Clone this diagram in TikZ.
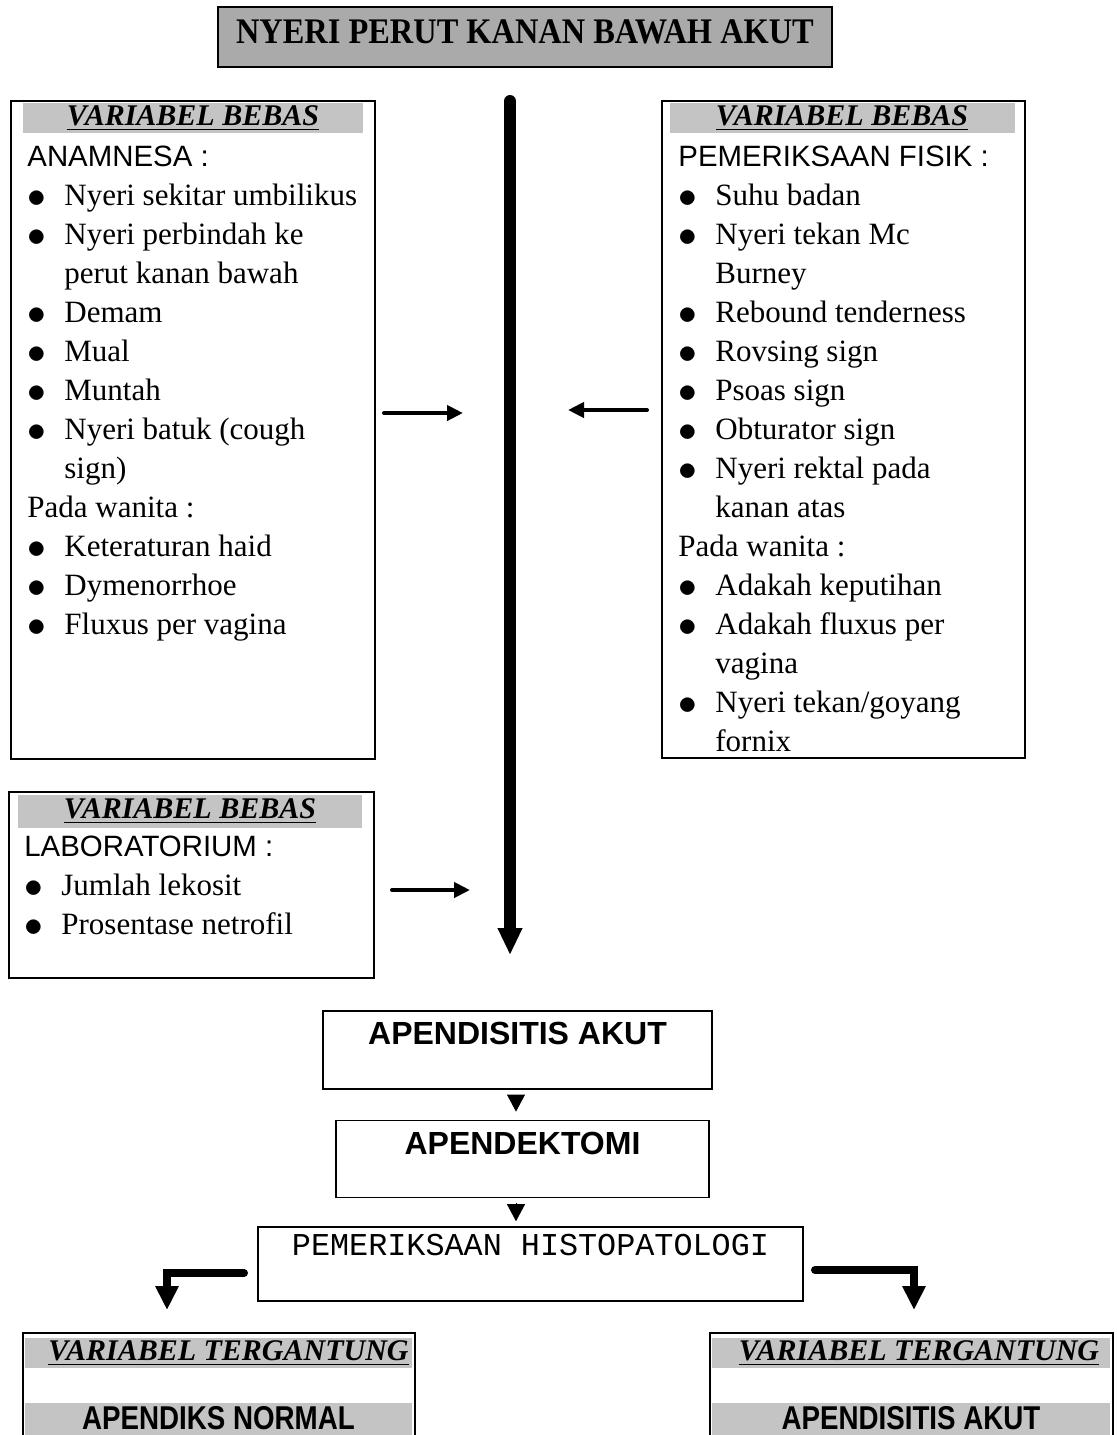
\documentclass[tikz,border=0pt]{standalone}
\usepackage{fontspec}
\setmainfont{Liberation Serif}
\setsansfont{Liberation Sans}
\setmonofont{Liberation Mono}
\newfontfamily\narrowsans[FakeStretch=0.84]{Liberation Sans}
\newfontfamily\titleserif[FakeStretch=0.9]{Liberation Serif}
\usepackage{tikz}
\usetikzlibrary{arrows.meta, positioning}
\definecolor{dotgray}{RGB}{196,196,196}
\definecolor{dotdark}{RGB}{170,170,170}
\newcommand{\bul}{\makebox[18.5pt][l]{\raisebox{-0.9pt}{\scalebox{1.3}{$\bullet$}}}}
\newcommand{\ind}{\hspace*{18.5pt}}
\newcommand{\varhead}[1]{\underline{\textbf{\textit{#1}}}}

\begin{document}
\begin{tikzpicture}[x=0.5pt, y=-0.5pt,
  frame/.style={draw, line width=0.8pt, inner sep=0pt},
  band/.style={fill=dotgray, inner sep=0pt, minimum height=15pt,
               font=\fontsize{15}{18}\selectfont},
  outlbl/.style={band, anchor=north, text height=13pt, text depth=5.5pt,
                 font=\narrowsans\bfseries\fontsize{16.5}{20}\selectfont},
  listtxt/.style={anchor=north west, align=left, inner sep=0pt,
                  font=\fontsize{15.5}{19.5}\selectfont},
  stepbox/.style={frame, font=\sffamily\bfseries\fontsize{16}{19}\selectfont},
  spine/.style={line width=6pt, line cap=round, -{Triangle[length=13.5pt, width=11.5pt]}},
  sidearr/.style={line width=2pt, line cap=round, -{Triangle[length=8pt, width=7.5pt]}},
  tri/.style={line width=0.4pt, -{Triangle[length=8.5pt, width=9pt]}},
  elbow/.style={line width=4pt, line cap=round, -{Triangle[length=12pt, width=11pt]}},
]
  \clip (0,0) rectangle (1116,1435);

  % Title
  \node[frame, fill=dotdark, anchor=north, minimum width=307pt, text height=18.5pt,
        text depth=11.5pt, font=\titleserif\bfseries\fontsize{18}{21}\selectfont]
        (title) at (525,6) {NYERI PERUT KANAN BAWAH AKUT};

  % Left box: anamnesa
  \node[frame, anchor=north west, minimum width=182pt, minimum height=329pt] (anam) at (10,100) {};
  \node[band, minimum width=170pt] (anamhead) at (193,118) {\varhead{VARIABEL BEBAS}};
  \node[listtxt] (anamlist) at (27,146) {%
    {\sffamily\fontsize{14.7}{19.5}\selectfont ANAMNESA :}\\
    \bul Nyeri sekitar umbilikus\\
    \bul Nyeri perbindah ke\\
    \ind perut kanan bawah\\
    \bul Demam\\
    \bul Mual\\
    \bul Muntah\\
    \bul Nyeri batuk (cough\\
    \ind sign)\\
    Pada wanita :\\
    \bul Keteraturan haid\\
    \bul Dymenorrhoe\\
    \bul Fluxus per vagina};

  % Right box: pemeriksaan fisik
  \node[frame, anchor=north west, minimum width=181.5pt, minimum height=328.5pt] (fisik) at (661,100) {};
  \node[band, minimum width=172.5pt] (fisikhead) at (842,118) {\varhead{VARIABEL BEBAS}};
  \node[listtxt] (fisiklist) at (678,146) {%
    {\sffamily\fontsize{14.7}{19.5}\selectfont PEMERIKSAAN FISIK :}\\
    \bul Suhu badan\\
    \bul Nyeri tekan Mc\\
    \ind Burney\\
    \bul Rebound tenderness\\
    \bul Rovsing sign\\
    \bul Psoas sign\\
    \bul Obturator sign\\
    \bul Nyeri rektal pada\\
    \ind kanan atas\\
    Pada wanita :\\
    \bul Adakah keputihan\\
    \bul Adakah fluxus per\\
    \ind vagina\\
    \bul Nyeri tekan/goyang\\
    \ind fornix};

  % Left box: laboratorium
  \node[frame, anchor=north west, minimum width=182.5pt, minimum height=93pt] (lab) at (8,791) {};
  \node[band, minimum width=172pt, minimum height=16.5pt] (labhead) at (190,811) {\varhead{VARIABEL BEBAS}};
  \node[listtxt] (lablist) at (24,836) {%
    {\sffamily\fontsize{14.7}{19.5}\selectfont LABORATORIUM :}\\
    \bul Jumlah lekosit\\
    \bul Prosentase netrofil};

  % Main spine and inputs
  \coordinate (sptop) at (510,101);
  \coordinate (spbot) at (510,955);
  \draw[spine] (sptop) -- (spbot);

  \coordinate (anamout) at (384,413);
  \coordinate (anamin) at (463,413);
  \coordinate (fisikout) at (647,410);
  \coordinate (fisikin) at (568,410);
  \coordinate (labout) at (392,890);
  \coordinate (labin) at (470,890);
  \draw[sidearr] (anamout) -- (anamin);
  \draw[sidearr] (fisikout) -- (fisikin);
  \draw[sidearr] (labout) -- (labin);

  % Diagnosis chain
  \node[stepbox, anchor=north, minimum width=194.5pt, text height=17pt, text depth=22pt]
        (akut) at (517.5,1010) {APENDISITIS AKUT};
  \node[stepbox, below=15pt of akut, xshift=2.5pt, minimum width=186.5pt, text height=17pt,
        text depth=21.5pt] (ektomi) {APENDEKTOMI};
  \node[frame, below=14pt of ektomi, xshift=4pt, minimum width=272.5pt, text height=14pt,
        text depth=23pt, font=\ttfamily\fontsize{15.9}{18}\selectfont]
        (histo) {PEMERIKSAAN HISTOPATOLOGI};

  \coordinate (trix) at (516,0);
  \draw[tri, shorten <=2.5pt, shorten >=4pt] (akut.south -| trix) -- (ektomi.north -| trix);
  \draw[tri, shorten <=2.5pt, shorten >=2.5pt] (ektomi.south -| trix) -- (histo.north -| trix);

  % Outcomes
  \node[frame, anchor=north west, minimum width=196pt, minimum height=70pt] (normal) at (22,1332) {};
  \node[band, minimum width=193.5pt] (normalhead) at (218.5,1353)
        {\hspace*{10pt}\varhead{VARIABEL TERGANTUNG}};
  \node[outlbl, minimum width=193.5pt] (normallbl) at (218.5,1403) {APENDIKS NORMAL};

  \node[frame, anchor=north west, minimum width=201.5pt, minimum height=70pt] (hasil) at (709,1332) {};
  \node[band, minimum width=199pt] (hasilhead) at (911,1353)
        {\hspace*{8pt}\varhead{VARIABEL TERGANTUNG}};
  \node[outlbl, minimum width=199pt] (hasillbl) at (911,1403) {APENDISITIS AKUT};

  \coordinate (lout) at (244,1273);
  \coordinate (ldown) at (167,1310);
  \coordinate (rout) at (815,1270);
  \coordinate (rdown) at (914,1310);
  \draw[elbow] (lout) -| (ldown);
  \draw[elbow] (rout) -| (rdown);
\end{tikzpicture}
\end{document}
